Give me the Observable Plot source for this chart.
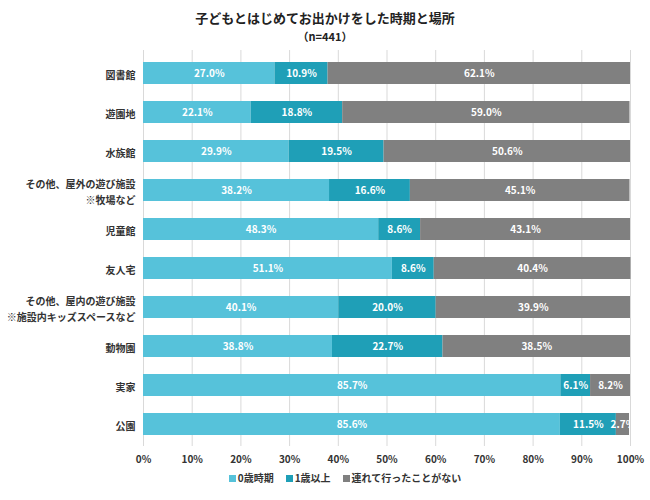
<!DOCTYPE html>
<html><head><meta charset="utf-8">
<script src="https://cdn.jsdelivr.net/npm/d3@7"></script>
<script src="https://cdn.jsdelivr.net/npm/@observablehq/plot@0.6"></script>
<style>
body{margin:0;background:#fff;font-family:"Noto Sans CJK JP",sans-serif;}
#wrap{width:650px;}
.title{height:45px;text-align:center;color:#222;}
.t1{font-size:13px;font-weight:bold;padding-top:9px;line-height:18px;}
.t2{font-size:11px;font-weight:bold;line-height:18px;margin-top:0px;}
.legend{display:flex;justify-content:center;gap:12px;font-size:10px;font-weight:bold;color:#333;margin-left:40px;margin-top:2px;}
.legend span.sw{display:inline-block;width:7px;height:7px;margin-right:2px;vertical-align:middle;position:relative;top:-1px;}
</style></head>
<body><div id="wrap">
<div class="title"><div class="t1">子どもとはじめてお出かけをした時期と場所</div><div class="t2">（n=441）</div></div>
<div id="chart"></div>
<div class="legend" id="legend"></div>
</div>
<script>
const places = ["図書館","遊園地","水族館","その他、屋外の遊び施設\n※牧場など","児童館","友人宅","その他、屋内の遊び施設\n※施設内キッズスペースなど","動物園","実家","公園"];
const series = ["0歳時期","1歳以上","連れて行ったことがない"];
const age0 = [27.0,22.1,29.9,38.2,48.3,51.1,40.1,38.8,85.7,85.6];
const age1 = [10.9,18.8,19.5,16.6,8.6,8.6,20.0,22.7,6.1,11.5];
const never = [62.1,59.0,50.6,45.1,43.1,40.4,39.9,38.5,8.2,2.7];
const colors = ["#56c2da","#1f9fb7","#808080"];
const xTicks = [0,10,20,30,40,50,60,70,80,90,100];

const data = [];
places.forEach((p,i)=>{
  [age0,age1,never].forEach((arr,j)=>data.push({place:p, series:series[j], value:arr[i]}));
});

const chart = Plot.plot({
  width:650, height:423,
  marginLeft:143, marginRight:20, marginTop:5, marginBottom:22,
  style:{fontFamily:"'Noto Sans CJK JP',sans-serif", fontSize:"10px", color:"#333", fontWeight:"bold"},
  x:{domain:[0,100], ticks:xTicks, tickFormat:d=>d+"%", label:null},
  y:{domain:places, paddingInner:0.44, paddingOuter:0.22, label:null},
  color:{domain:series, range:colors},
  marks:[
    Plot.gridX(xTicks,{stroke:"#d9d9d9", strokeOpacity:1}),
    Plot.barX(data, Plot.stackX({x:"value", y:"place", fill:"series", z:"series"})),
    Plot.textX(data, Plot.stackX({x:"value", y:"place", z:"series", text:d=>d.value.toFixed(1)+"%", fill:"white", fontWeight:"bold", fontSize:10, clip:true})),
    Plot.axisX({ticks:xTicks, tickFormat:d=>d+"%", tickSize:0, tickPadding:9, label:null, fontSize:10}),
    Plot.axisY({tickSize:0, tickPadding:8, label:null, fontSize:10, lineHeight:1.6})
  ]
});
document.getElementById("chart").appendChild(chart);

const lg = document.getElementById("legend");
series.forEach((s,i)=>{
  const d = document.createElement("div");
  d.innerHTML = `<span class="sw" style="background:${colors[i]}"></span>${s}`;
  lg.appendChild(d);
});
</script>
</body></html>
